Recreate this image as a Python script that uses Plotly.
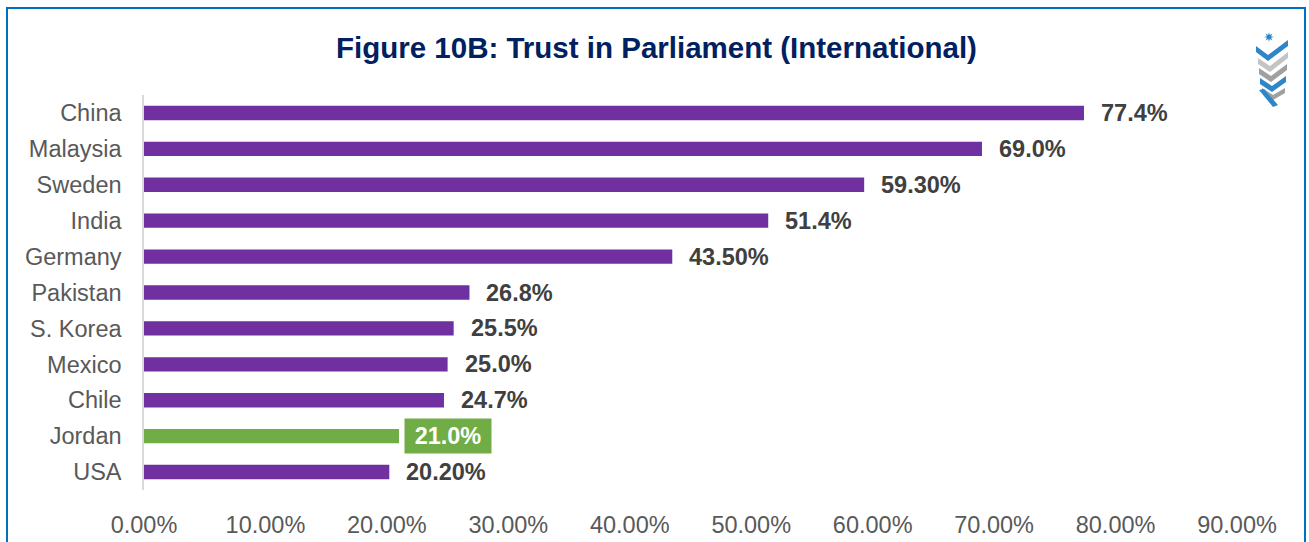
import math
import plotly.graph_objects as go

countries = ["China", "Malaysia", "Sweden", "India", "Germany", "Pakistan",
             "S. Korea", "Mexico", "Chile", "Jordan", "USA"]
values = [77.4, 69.0, 59.3, 51.4, 43.5, 26.8, 25.5, 25.0, 24.7, 21.0, 20.2]
value_labels = ["77.4%", "69.0%", "59.30%", "51.4%", "43.50%", "26.8%",
                "25.5%", "25.0%", "24.7%", "21.0%", "20.20%"]
tick_vals = [0, 10, 20, 30, 40, 50, 60, 70, 80, 90]
tick_text = ["0.00%", "10.00%", "20.00%", "30.00%", "40.00%", "50.00%",
             "60.00%", "70.00%", "80.00%", "90.00%"]
highlight = "Jordan"

PURPLE = "#7030A0"
GREEN = "#70AD47"
FONT = "Liberation Sans, Arial, sans-serif"

W, H = 1309, 542
L, R, T, B = 144, 72, 95, 52
PW, PH = W - L - R, H - T - B


def px(x):
    return (x - L) / PW


def py(y):
    return (H - B - y) / PH


colors = [GREEN if c == highlight else PURPLE for c in countries]

fig = go.Figure()
fig.add_trace(go.Bar(
    x=values, y=countries, orientation="h",
    marker=dict(color=colors, line=dict(width=0)),
    hoverinfo="skip",
))

annotations = []
for c, v, t in zip(countries, values, value_labels):
    if c == highlight:
        annotations.append(dict(
            x=v, y=c, xref="x", yref="y", text="<b>%s</b>" % t,
            showarrow=False, xanchor="left", xshift=5,
            font=dict(family=FONT, size=23.5, color="white"),
            bgcolor=GREEN, borderpad=4, width=78, align="center",
        ))
    else:
        annotations.append(dict(
            x=v, y=c, xref="x", yref="y", text="<b>%s</b>" % t,
            showarrow=False, xanchor="left", xshift=15,
            font=dict(family=FONT, size=23.5, color="#404040"),
        ))

annotations.append(dict(
    x=px(W / 2 + 2), y=py(47), xref="paper", yref="paper",
    text="<b>Figure 10B: Trust in Parliament (International)</b>",
    showarrow=False, xanchor="center", yanchor="middle",
    font=dict(family=FONT, size=29.5, color="#002060"),
))

shapes = [
    # outer frame
    dict(type="rect", xref="paper", yref="paper",
         x0=px(7), x1=px(1305), y0=py(560), y1=py(8),
         line=dict(color="#0070C0", width=2), layer="below"),
]


def poly(pts, color):
    d = "M " + " L ".join("%f,%f" % (px(a), py(b)) for a, b in pts) + " Z"
    return dict(type="path", xref="paper", yref="paper", path=d,
                fillcolor=color, line=dict(width=0))


def chevron(x0, y0, xm, ym, x1, y1, t, color):
    return poly([(x0, y0), (xm, ym), (x1, y1), (x1, y1 + t),
                 (xm, ym + t), (x0, y0 + t)], color)


LOGO_BLUE = "#2E86C8"
LOGO_GRAY = "#A0A0A0"
LOGO_GRAY2 = "#C4C4C4"
# small decorative logo
star = []
cx, cy = 1269, 37
for i in range(16):
    r = 4.8 if i % 2 == 0 else 2.2
    a = math.pi / 2 + i * math.pi / 8
    star.append((cx + r * math.cos(a), cy - r * math.sin(a)))
shapes.append(poly(star, LOGO_BLUE))
shapes += [
    chevron(1256, 46, 1268, 55, 1288, 40, 6, LOGO_BLUE),
    chevron(1258, 58, 1270, 66, 1288, 52, 6, LOGO_GRAY2),
    chevron(1259, 68, 1271, 76, 1287, 64, 6, LOGO_GRAY),
    chevron(1260, 78, 1272, 86, 1286, 76, 6, LOGO_BLUE),
    chevron(1262, 88, 1273, 95, 1285, 88, 5, LOGO_GRAY),
    poly([(1259, 90), (1264, 89), (1278, 105), (1273, 107)], LOGO_BLUE),
]

fig.update_layout(
    width=W, height=H,
    margin=dict(l=L, r=R, t=T, b=B, autoexpand=False),
    paper_bgcolor="white", plot_bgcolor="white",
    showlegend=False, bargap=0.6,
    font=dict(family=FONT, size=23.5, color="#595959"),
    annotations=annotations, shapes=shapes,
    xaxis=dict(range=[0, 90], tickvals=tick_vals, ticktext=tick_text,
               showgrid=False, zeroline=False, showline=False,
               ticks="", ticklabelstandoff=18, automargin=False,
               tickfont=dict(family=FONT, size=23.5, color="#595959"),
               fixedrange=True),
    yaxis=dict(categoryorder="array", categoryarray=countries[::-1],
               showgrid=False, zeroline=False, showline=True,
               linecolor="#D9D9D9", linewidth=1.5, ticks="",
               ticklabelstandoff=16, automargin=False,
               tickfont=dict(family=FONT, size=23.5, color="#595959"),
               fixedrange=True),
)

fig.write_html("out.html", config={"displayModeBar": False},
               post_script="document.body.style.margin='0';"
                           "document.body.style.padding='0';"
                           "document.body.style.overflow='hidden';")
